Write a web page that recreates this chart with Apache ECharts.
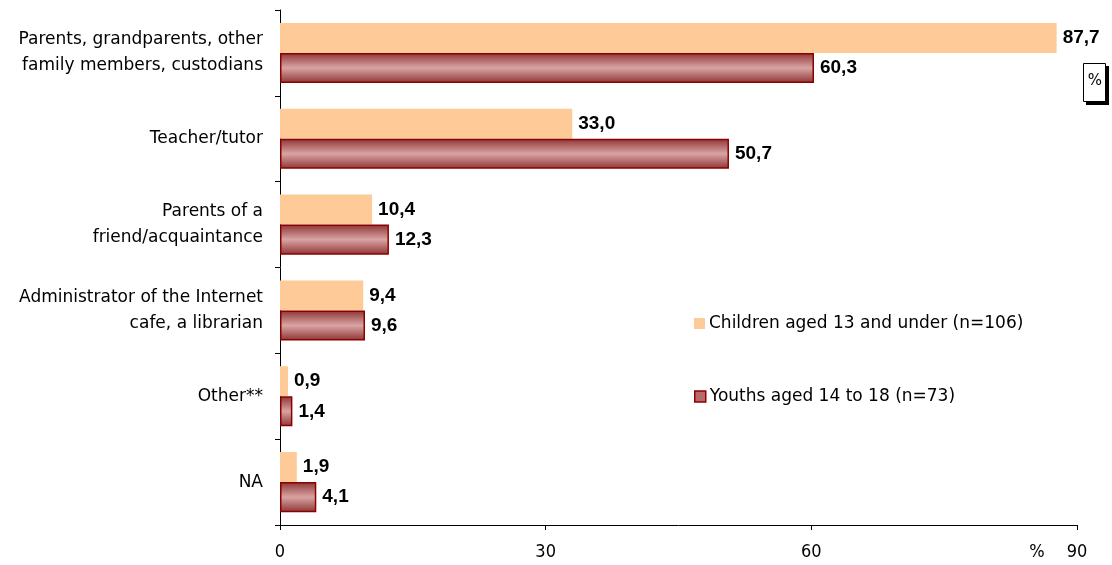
<!DOCTYPE html>
<html>
<head>
<meta charset="utf-8">
<script src="https://cdn.jsdelivr.net/npm/echarts@6/dist/echarts.min.js"></script>
<style>
  html, body { margin: 0; padding: 0; background: #fff; }
  #chart { width: 1112px; height: 565px; }
</style>
</head>
<body>
<div id="chart"></div>
<script>
// Who helps with Internet use: share of respondents, %
const categories = [
  'Parents, grandparents, other\nfamily members, custodians',
  'Teacher/tutor',
  'Parents of a\nfriend/acquaintance',
  'Administrator of the Internet\ncafe, a librarian',
  'Other**',
  'NA'
];
const children = [87.7, 33.0, 10.4, 9.4, 0.9, 1.9];
const youths = [60.3, 50.7, 12.3, 9.6, 1.4, 4.1];
const seriesNames = ['Children aged 13 and under (n=106)', 'Youths aged 14 to 18 (n=73)'];
const xTicks = [0, 30, 60, 90];

const fmt = v => v.toFixed(1).replace('.', ',');
const labelFont = {
  fontFamily: '"Liberation Sans", Arial, sans-serif',
  fontWeight: 'bold',
  fontSize: 19,
  color: '#000'
};
const textFont = '"DejaVu Sans", Verdana, sans-serif';
const narrowFont = '"DejaVu Sans Condensed", "Liberation Sans", sans-serif';

const chart = echarts.init(document.getElementById('chart'), null, { renderer: 'canvas' });

chart.setOption({
  animation: false,
  backgroundColor: '#fff',
  grid: { left: 280, right: 35, top: 10, bottom: 40 },
  xAxis: {
    type: 'value',
    min: xTicks[0],
    max: xTicks[xTicks.length - 1],
    interval: 30,
    splitLine: { show: false },
    axisLine: { show: true, lineStyle: { color: '#000', width: 1 } },
    axisTick: { show: true, length: 5, lineStyle: { color: '#000' } },
    axisLabel: {
      margin: 18,
      fontFamily: narrowFont,
      fontSize: 18,
      color: '#000'
    }
  },
  yAxis: {
    type: 'category',
    data: categories,
    inverse: true,
    axisLine: { show: true, lineStyle: { color: '#000', width: 1 } },
    axisTick: { show: true, length: 5, lineStyle: { color: '#000' } },
    axisLabel: {
      margin: 17,
      fontFamily: textFont,
      fontSize: 17,
      lineHeight: 26,
      color: '#000',
      align: 'right'
    }
  },
  legend: [
    {
      data: [seriesNames[0]],
      orient: 'vertical',
      left: 689, top: 310,
      itemWidth: 11, itemHeight: 11, itemGap: 0,
      icon: 'rect',
      textStyle: { fontFamily: textFont, fontSize: 17, color: '#000', padding: [0, 0, 0, -1] }
    },
    {
      data: [seriesNames[1]],
      orient: 'vertical',
      left: 689, top: 383,
      itemWidth: 11, itemHeight: 11, itemGap: 0,
      icon: 'rect',
      itemStyle: { color: '#b86a6a', borderColor: '#8b0000', borderWidth: 1.5 },
      textStyle: { fontFamily: textFont, fontSize: 17, color: '#000', padding: [0, 0, 0, -1] }
    }
  ],
  series: [
    {
      name: seriesNames[0],
      type: 'bar',
      data: children,
      barGap: '0%',
      barCategoryGap: '30%',
      itemStyle: { color: '#fdca98' },
      label: {
        show: true,
        position: 'right',
        distance: 6,
        formatter: p => fmt(p.value),
        ...labelFont
      }
    },
    {
      name: seriesNames[1],
      type: 'bar',
      data: youths,
      itemStyle: {
        color: new echarts.graphic.LinearGradient(0, 0, 0, 1, [
          { offset: 0, color: '#8e3434' },
          { offset: 0.5, color: '#d9a4a4' },
          { offset: 1, color: '#8e3434' }
        ]),
        borderColor: '#8b0000',
        borderWidth: 1.5
      },
      label: {
        show: true,
        position: 'right',
        distance: 6,
        formatter: p => fmt(p.value),
        ...labelFont
      }
    }
  ],
  graphic: [
    // unit box with drop shadow at the right edge
    { type: 'rect', shape: { x: 1086, y: 66, width: 23, height: 39 }, style: { fill: '#000' } },
    { type: 'rect', shape: { x: 1083.5, y: 63.5, width: 22, height: 38 }, style: { fill: '#fff', stroke: '#000', lineWidth: 1 } },
    { type: 'text', x: 1095, y: 81, style: { text: '%', fontSize: 15, fontFamily: textFont, fill: '#000', align: 'center', verticalAlign: 'middle' } },
    // unit mark beside the last x tick
    { type: 'text', x: 1037, y: 552, style: { text: '%', fontSize: 18, fontFamily: narrowFont, fill: '#000', align: 'center', verticalAlign: 'middle' } }
  ]
});
</script>
</body>
</html>
